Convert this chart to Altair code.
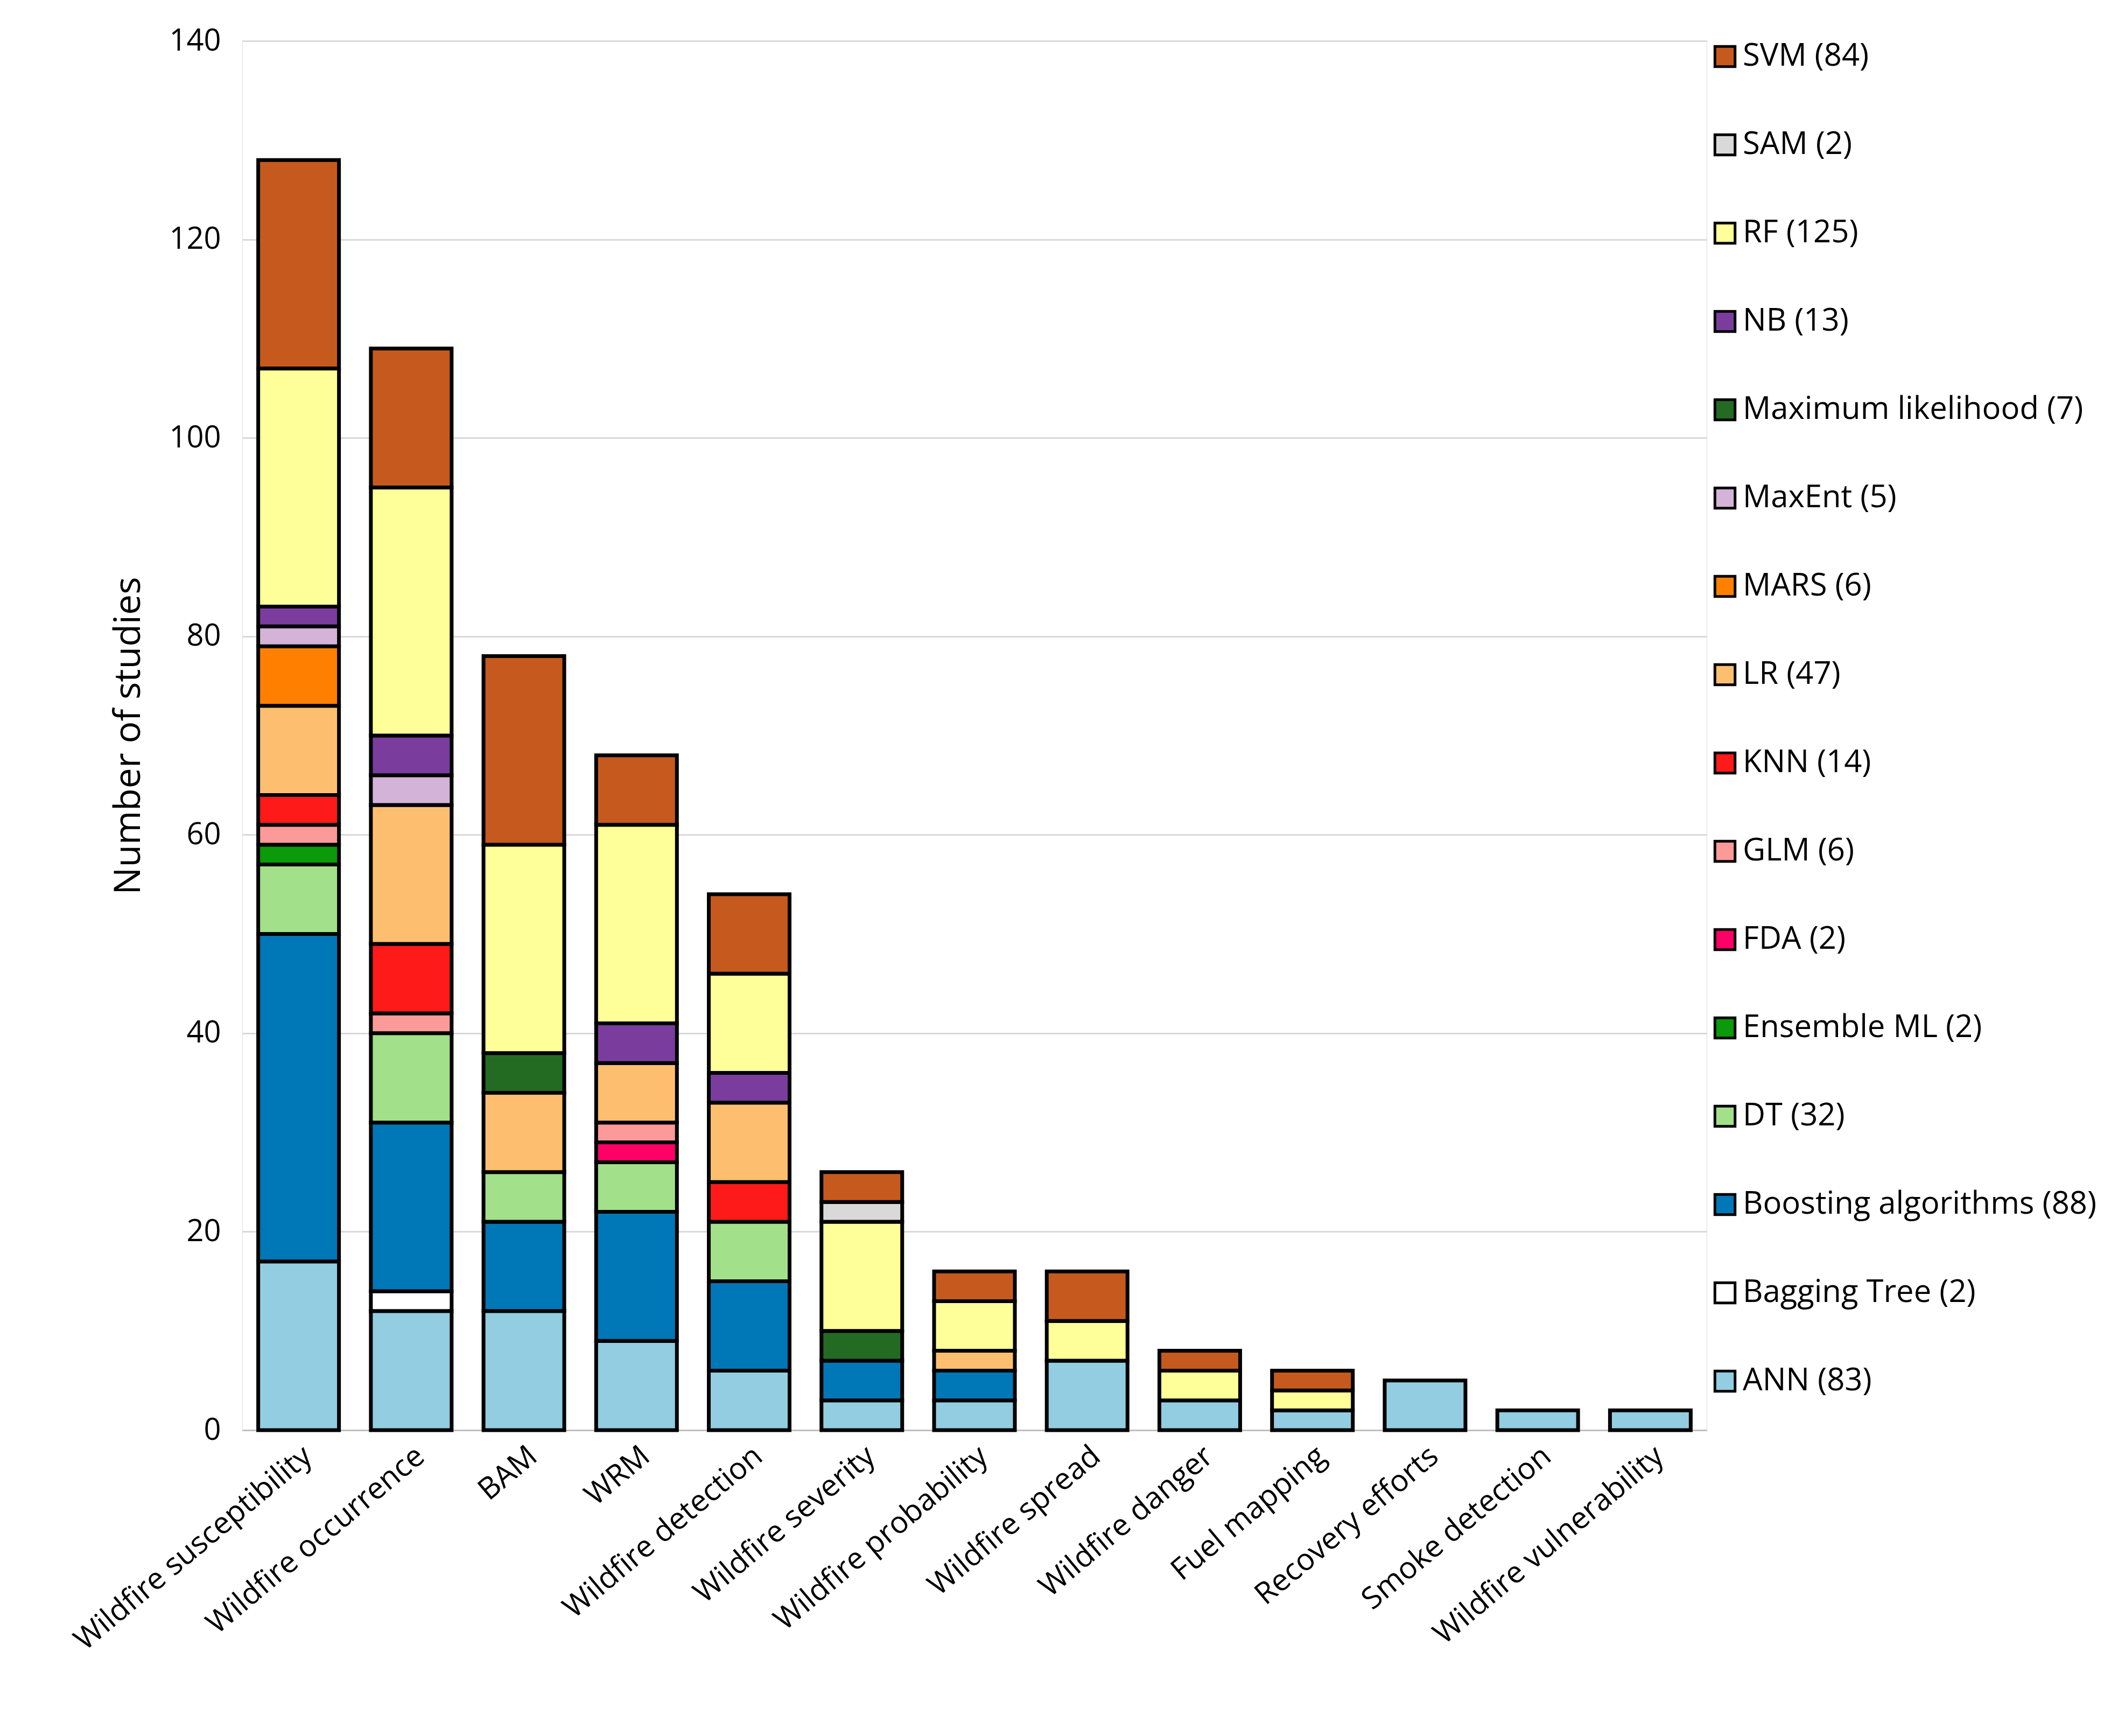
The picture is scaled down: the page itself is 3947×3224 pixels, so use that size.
import altair as alt
import pandas as pd

categories = ["Wildfire susceptibility", "Wildfire occurrence", "BAM", "WRM",
              "Wildfire detection", "Wildfire severity", "Wildfire probability",
              "Wildfire spread", "Wildfire danger", "Fuel mapping",
              "Recovery efforts", "Smoke detection", "Wildfire vulnerability"]

# stacking order bottom -> top
methods = ["ANN (83)", "Bagging Tree (2)", "Boosting algorithms (88)", "DT (32)",
           "Ensemble ML (2)", "FDA (2)", "GLM (6)", "KNN (14)", "LR (47)",
           "MARS (6)", "MaxEnt (5)", "Maximum likelihood (7)", "NB (13)",
           "RF (125)", "SAM (2)", "SVM (84)"]
colors = ["#92CDE1", "#FFFFFF", "#0077B6", "#A2E08A", "#0A9A0A", "#FF0066",
          "#FB9A99", "#FF1A1A", "#FDBF6F", "#FF8000", "#D4B3D8", "#236B22",
          "#7A3D9E", "#FFFF99", "#D9D9D9", "#C65A1E"]

values = {
    "ANN (83)":                 [17, 12, 12, 9, 6, 3, 3, 7, 3, 2, 5, 2, 2],
    "Bagging Tree (2)":         [0, 2, 0, 0, 0, 0, 0, 0, 0, 0, 0, 0, 0],
    "Boosting algorithms (88)": [33, 17, 9, 13, 9, 4, 3, 0, 0, 0, 0, 0, 0],
    "DT (32)":                  [7, 9, 5, 5, 6, 0, 0, 0, 0, 0, 0, 0, 0],
    "Ensemble ML (2)":          [2, 0, 0, 0, 0, 0, 0, 0, 0, 0, 0, 0, 0],
    "FDA (2)":                  [0, 0, 0, 2, 0, 0, 0, 0, 0, 0, 0, 0, 0],
    "GLM (6)":                  [2, 2, 0, 2, 0, 0, 0, 0, 0, 0, 0, 0, 0],
    "KNN (14)":                 [3, 7, 0, 0, 4, 0, 0, 0, 0, 0, 0, 0, 0],
    "LR (47)":                  [9, 14, 8, 6, 8, 0, 2, 0, 0, 0, 0, 0, 0],
    "MARS (6)":                 [6, 0, 0, 0, 0, 0, 0, 0, 0, 0, 0, 0, 0],
    "MaxEnt (5)":               [2, 3, 0, 0, 0, 0, 0, 0, 0, 0, 0, 0, 0],
    "Maximum likelihood (7)":   [0, 0, 4, 0, 0, 3, 0, 0, 0, 0, 0, 0, 0],
    "NB (13)":                  [2, 4, 0, 4, 3, 0, 0, 0, 0, 0, 0, 0, 0],
    "RF (125)":                 [24, 25, 21, 20, 10, 11, 5, 4, 3, 2, 0, 0, 0],
    "SAM (2)":                  [0, 0, 0, 0, 0, 2, 0, 0, 0, 0, 0, 0, 0],
    "SVM (84)":                 [21, 14, 19, 7, 8, 3, 3, 5, 2, 2, 0, 0, 0],
}

rows = []
for i, m in enumerate(methods):
    for c, v in zip(categories, values[m]):
        if v > 0:
            rows.append({"category": c, "method": m, "value": v, "order": i})
df = pd.DataFrame(rows)

font = "Open Sans"
chart = (
    alt.Chart(df)
    .mark_bar(stroke="black", strokeWidth=7, size=150)
    .encode(
        x=alt.X("category:N", sort=categories, title=None,
                axis=alt.Axis(labelAngle=-40, labelFontSize=56, labelFont=font,
                              labelColor="black", ticks=False, domainColor="#BFBFBF",
                              domainWidth=3, labelPadding=20, labelAlign="right",
                              labelLimit=2000)),
        y=alt.Y("value:Q", stack="zero", title="Number of studies",
                scale=alt.Scale(domain=[0, 140]),
                axis=alt.Axis(values=list(range(0, 141, 20)), labelFontSize=56,
                              labelFont=font, labelColor="black", titleFontSize=68,
                              titleFont=font, titleFontWeight="normal",
                              titleColor="black", domain=False, ticks=False,
                              gridColor="#D9D9D9", gridWidth=3, labelPadding=40,
                              titlePadding=40)),
        color=alt.Color("method:N",
                        scale=alt.Scale(domain=methods[::-1], range=colors[::-1]),
                        legend=alt.Legend(title=None, labelFontSize=58, labelFont=font,
                                          labelColor="black", symbolType="square",
                                          symbolSize=1400, symbolStrokeColor="black",
                                          symbolStrokeWidth=5, rowPadding=106,
                                          labelLimit=1200, offset=5, padding=0)),
        order=alt.Order("order:Q", sort="ascending"),
    )
    .properties(width=2720, height=2580,
                padding={"left": 120, "top": 40, "right": 10, "bottom": 10})
    .configure_view(strokeWidth=0)
    .configure(background="white")
)

chart.save("out.html", embed_options={"renderer": "svg", "actions": False})
